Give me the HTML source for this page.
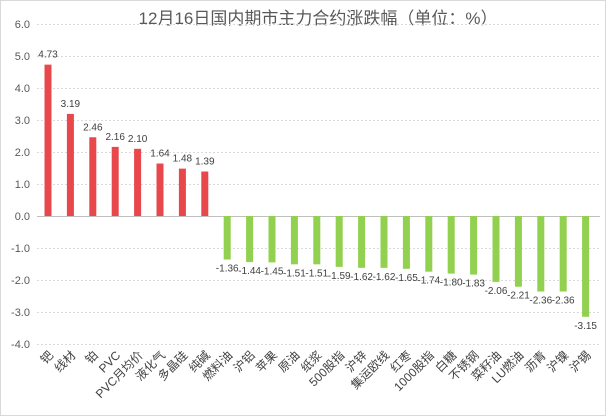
<!DOCTYPE html>
<html><head><meta charset="utf-8"><style>
html,body{margin:0;padding:0;background:#fff}
svg{display:block}
text{font-family:"Liberation Sans","Noto Sans CJK SC",sans-serif}
</style></head><body>
<svg width="606" height="416" viewBox="0 0 606 416" xmlns="http://www.w3.org/2000/svg">
<rect x="0.5" y="0.5" width="605" height="415" fill="#fff" stroke="#d9d9d9"/>
<text x="318" y="24" text-anchor="middle" font-size="17" fill="#595959">12月16日国内期市主力合约涨跌幅（单位：%）</text>
<g id="grid" stroke="#d9d9d9" stroke-dasharray="2,2" stroke-width="1"></g>
<g id="ylab" font-size="11" fill="#595959" text-anchor="end"></g>
<g id="bars"></g>
<g id="vals" font-size="10" fill="#404040" text-anchor="middle"></g>
<g id="xlab" font-size="12" fill="#404040" text-anchor="end"></g>
</svg>
<script>
var ns="http://www.w3.org/2000/svg";
function el(p,t,a,txt){var e=document.createElementNS(ns,t);for(var k in a)e.setAttribute(k,a[k]);if(txt!=null)e.textContent=txt;document.getElementById(p).appendChild(e);}
var Y0=216,U=32;
for(var v=6;v>=-4;v--){var y=Y0-v*U;
 if(v!==0) el("grid","line",{x1:37,x2:600,y1:y+0.5,y2:y+0.5});
 el("ylab","text",{x:30,y:y+4},v.toFixed(1));}
var names=["钯","线材","铂","PVC","PVC月均价","液化气","多晶硅","纯碱","燃料油","沪铝","苹果","原油","纸浆","500股指","沪锌","集运欧线","红枣","1000股指","白糖","不锈钢","菜籽油","LU燃油","沥青","沪镍","沪锡"];
var vals=[4.73,3.19,2.46,2.16,2.10,1.64,1.48,1.39,-1.36,-1.44,-1.45,-1.51,-1.51,-1.59,-1.62,-1.62,-1.65,-1.74,-1.80,-1.83,-2.06,-2.21,-2.36,-2.36,-3.15];
for(var i=0;i<25;i++){var cx=48+i*22.4,v=vals[i],h=Math.abs(v)*U;
 if(v>0){el("bars","rect",{x:cx-3.5,y:Y0-h,width:7,height:h,fill:"#e8474c"});
  el("vals","text",{x:cx,y:Y0-h-7},v.toFixed(2));}
 else{el("bars","rect",{x:cx-3.5,y:Y0,width:7,height:h,fill:"#92d050"});
  el("vals","text",{x:cx,y:Y0+h+12},v.toFixed(2));}
 el("xlab","text",{x:cx+6,y:356,transform:"rotate(-45 "+(cx+6)+" 356)"},names[i]);}
el("grid","line",{x1:37,x2:600,y1:Y0+0.5,y2:Y0+0.5,stroke:"#bfbfbf","stroke-dasharray":"none"});
</script>
</body></html>
